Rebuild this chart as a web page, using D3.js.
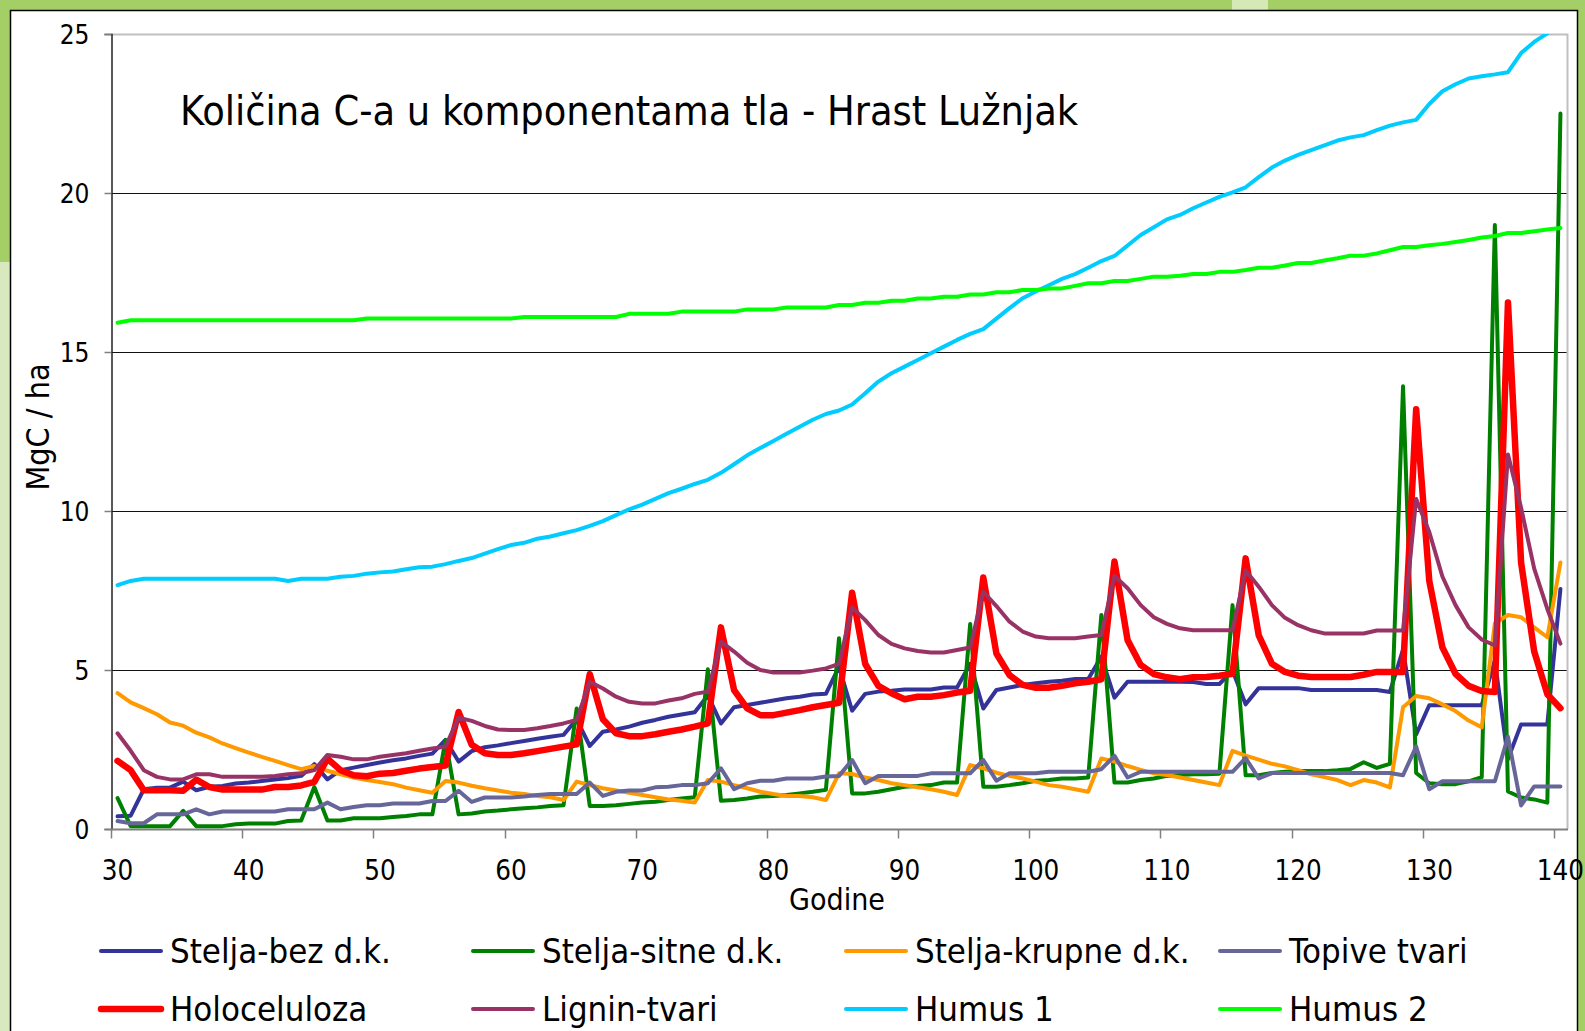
<!DOCTYPE html>
<html>
<head>
<meta charset="utf-8">
<script src="https://cdn.jsdelivr.net/npm/d3@7"></script>
<style>
  html, body { margin: 0; padding: 0; background: #a3cf66; overflow: hidden; }
  svg { display: block; }
  text { font-family: "DejaVu Sans Condensed", "DejaVu Sans", sans-serif; fill: #000; }
</style>
</head>
<body>
<div id="chart"></div>
<script>
// Godine (kategorije na osi x)
var years = d3.range(30, 141);
var yTicks = [0, 5, 10, 15, 20, 25];
var xTickLabels = [30, 40, 50, 60, 70, 80, 90, 100, 110, 120, 130, 140];

// Vrijednosti serija (MgC / ha), 30. - 140. godina
var steljaBez = [
  0.40, 0.42, 1.25, 1.30, 1.30, 1.49, 1.22, 1.33, 1.35, 1.43,
  1.46, 1.51, 1.56, 1.60, 1.67, 2.04, 1.56, 1.85, 1.93, 2.01,
  2.09, 2.16, 2.22, 2.30, 2.37, 2.80, 2.12, 2.45, 2.57, 2.63,
  2.70, 2.77, 2.84, 2.90, 2.96, 3.45, 2.61, 3.06, 3.13, 3.22,
  3.34, 3.43, 3.53, 3.60, 3.67, 4.20, 3.32, 3.83, 3.90, 3.97,
  4.04, 4.11, 4.16, 4.23, 4.25, 5.10, 3.72, 4.25, 4.32, 4.35,
  4.39, 4.39, 4.39, 4.45, 4.45, 5.19, 3.79, 4.37, 4.45, 4.53,
  4.58, 4.63, 4.66, 4.72, 4.72, 5.42, 4.13, 4.63, 4.63, 4.63,
  4.63, 4.63, 4.62, 4.56, 4.56, 4.98, 3.92, 4.43, 4.43, 4.43,
  4.43, 4.37, 4.37, 4.37, 4.37, 4.37, 4.37, 4.31, 5.64, 2.97,
  3.89, 3.89, 3.89, 3.89, 3.89, 5.30, 2.20, 3.29, 3.29, 3.29,
  7.55
];
var steljaSitne = [
  0.97, 0.09, 0.09, 0.09, 0.09, 0.57, 0.09, 0.09, 0.09, 0.15,
  0.17, 0.17, 0.17, 0.25, 0.27, 1.32, 0.27, 0.27, 0.34, 0.34,
  0.34, 0.38, 0.41, 0.46, 0.46, 2.80, 0.46, 0.49, 0.55, 0.58,
  0.62, 0.65, 0.68, 0.72, 0.75, 3.79, 0.72, 0.72, 0.75, 0.79,
  0.83, 0.86, 0.91, 0.96, 1.00, 5.02, 0.89, 0.91, 0.96, 1.02,
  1.04, 1.07, 1.12, 1.17, 1.23, 6.00, 1.12, 1.12, 1.17, 1.25,
  1.33, 1.35, 1.38, 1.46, 1.46, 6.45, 1.33, 1.33, 1.38, 1.44,
  1.52, 1.54, 1.59, 1.59, 1.62, 6.73, 1.46, 1.46, 1.54, 1.59,
  1.67, 1.70, 1.72, 1.72, 1.74, 7.04, 1.69, 1.69, 1.76, 1.80,
  1.82, 1.82, 1.82, 1.85, 1.89, 2.10, 1.92, 2.05, 13.92, 1.76,
  1.44, 1.41, 1.41, 1.50, 1.63, 18.99, 1.18, 0.99, 0.93, 0.83,
  22.50
];
var steljaKrupne = [
  4.27, 3.98, 3.80, 3.61, 3.35, 3.25, 3.03, 2.88, 2.69, 2.54,
  2.40, 2.27, 2.14, 2.01, 1.88, 1.98, 1.83, 1.72, 1.62, 1.54,
  1.48, 1.41, 1.30, 1.22, 1.14, 1.51, 1.46, 1.36, 1.28, 1.21,
  1.14, 1.10, 1.04, 1.00, 0.91, 1.49, 1.38, 1.28, 1.21, 1.14,
  1.07, 1.00, 0.93, 0.89, 0.83, 1.54, 1.49, 1.38, 1.28, 1.17,
  1.10, 1.04, 1.04, 1.00, 0.91, 1.75, 1.73, 1.62, 1.54, 1.44,
  1.38, 1.31, 1.25, 1.17, 1.07, 2.01, 1.91, 1.77, 1.67, 1.59,
  1.49, 1.38, 1.33, 1.25, 1.17, 2.22, 2.12, 1.98, 1.86, 1.75,
  1.70, 1.62, 1.54, 1.46, 1.38, 2.46, 2.31, 2.18, 2.05, 1.97,
  1.85, 1.72, 1.63, 1.54, 1.38, 1.54, 1.46, 1.31, 3.83, 4.18,
  4.11, 3.92, 3.71, 3.41, 3.20, 6.47, 6.73, 6.66, 6.34, 6.03,
  8.38
];
var topive = [
  0.25, 0.18, 0.18, 0.46, 0.46, 0.46, 0.62, 0.46, 0.55, 0.55,
  0.55, 0.55, 0.55, 0.62, 0.62, 0.62, 0.83, 0.62, 0.69, 0.75,
  0.75, 0.80, 0.80, 0.80, 0.88, 0.88, 1.20, 0.85, 0.99, 0.99,
  0.99, 1.02, 1.07, 1.10, 1.10, 1.10, 1.46, 1.04, 1.17, 1.21,
  1.21, 1.31, 1.33, 1.38, 1.38, 1.44, 1.91, 1.25, 1.44, 1.52,
  1.52, 1.59, 1.59, 1.59, 1.65, 1.67, 2.17, 1.44, 1.67, 1.67,
  1.67, 1.67, 1.75, 1.75, 1.75, 1.75, 2.17, 1.52, 1.75, 1.75,
  1.75, 1.80, 1.80, 1.80, 1.80, 1.88, 2.30, 1.62, 1.80, 1.80,
  1.80, 1.80, 1.80, 1.80, 1.80, 1.80, 2.23, 1.59, 1.76, 1.76,
  1.76, 1.76, 1.76, 1.76, 1.76, 1.76, 1.76, 1.76, 1.69, 2.59,
  1.25, 1.50, 1.50, 1.50, 1.50, 1.50, 2.90, 0.74, 1.34, 1.34,
  1.34
];
var holoceluloza = [
  2.14, 1.85, 1.22, 1.22, 1.22, 1.20, 1.55, 1.32, 1.24, 1.24,
  1.24, 1.24, 1.32, 1.32, 1.37, 1.48, 2.21, 1.85, 1.69, 1.66,
  1.74, 1.76, 1.83, 1.90, 1.95, 2.00, 3.68, 2.65, 2.38, 2.33,
  2.33, 2.38, 2.45, 2.52, 2.59, 2.66, 4.87, 3.45, 3.01, 2.92,
  2.92, 2.98, 3.06, 3.13, 3.22, 3.32, 6.34, 4.37, 3.79, 3.58,
  3.58, 3.66, 3.74, 3.83, 3.90, 3.97, 7.43, 5.19, 4.50, 4.27,
  4.08, 4.16, 4.16, 4.21, 4.29, 4.35, 7.91, 5.52, 4.84, 4.53,
  4.44, 4.44, 4.50, 4.58, 4.63, 4.71, 8.41, 5.94, 5.16, 4.87,
  4.77, 4.71, 4.77, 4.78, 4.82, 4.88, 8.51, 6.09, 5.20, 4.94,
  4.82, 4.78, 4.78, 4.78, 4.78, 4.85, 4.94, 4.94, 4.94, 13.20,
  7.80, 5.71, 4.88, 4.50, 4.34, 4.31, 16.56, 8.38, 5.58, 4.24,
  3.80
];
var lignin = [
  3.01, 2.46, 1.85, 1.64, 1.56, 1.56, 1.72, 1.72, 1.64, 1.64,
  1.64, 1.64, 1.67, 1.72, 1.75, 1.85, 2.33, 2.27, 2.19, 2.19,
  2.27, 2.33, 2.38, 2.46, 2.53, 2.59, 3.50, 3.40, 3.24, 3.13,
  3.11, 3.11, 3.17, 3.24, 3.32, 3.43, 4.63, 4.42, 4.16, 4.00,
  3.95, 3.95, 4.04, 4.11, 4.25, 4.32, 5.89, 5.58, 5.23, 5.00,
  4.92, 4.92, 4.92, 4.98, 5.05, 5.19, 6.97, 6.57, 6.10, 5.82,
  5.68, 5.60, 5.55, 5.55, 5.63, 5.71, 7.46, 7.01, 6.52, 6.21,
  6.05, 6.00, 6.00, 6.00, 6.05, 6.10, 7.96, 7.57, 7.04, 6.66,
  6.45, 6.31, 6.25, 6.25, 6.25, 6.25, 8.13, 7.62, 7.04, 6.64,
  6.41, 6.25, 6.15, 6.15, 6.15, 6.15, 6.24, 6.24, 6.24, 10.38,
  9.34, 7.94, 7.04, 6.34, 5.96, 5.77, 11.78, 10.10, 8.19, 6.92,
  5.83
];
var humus1 = [
  7.67, 7.80, 7.87, 7.87, 7.87, 7.87, 7.87, 7.87, 7.87, 7.87,
  7.87, 7.87, 7.87, 7.80, 7.87, 7.87, 7.87, 7.93, 7.96, 8.03,
  8.07, 8.10, 8.17, 8.23, 8.25, 8.33, 8.43, 8.52, 8.66, 8.80,
  8.93, 9.00, 9.13, 9.20, 9.30, 9.40, 9.53, 9.68, 9.87, 10.05,
  10.20, 10.38, 10.56, 10.70, 10.85, 10.98, 11.20, 11.47, 11.75, 11.98,
  12.20, 12.43, 12.65, 12.87, 13.05, 13.16, 13.35, 13.70, 14.07, 14.33,
  14.54, 14.75, 14.96, 15.17, 15.38, 15.57, 15.72, 16.05, 16.38, 16.69,
  16.90, 17.10, 17.30, 17.45, 17.65, 17.86, 18.02, 18.35, 18.68, 18.92,
  19.17, 19.31, 19.52, 19.70, 19.88, 20.02, 20.18, 20.50, 20.80, 21.02,
  21.20, 21.35, 21.50, 21.65, 21.75, 21.82, 21.98, 22.12, 22.22, 22.30,
  22.80, 23.20, 23.42, 23.60, 23.67, 23.73, 23.80, 24.40, 24.75, 25.02,
  25.30
];
var humus2 = [
  15.92, 16.00, 16.00, 16.00, 16.00, 16.00, 16.00, 16.00, 16.00, 16.00,
  16.00, 16.00, 16.00, 16.00, 16.00, 16.00, 16.00, 16.00, 16.00, 16.05,
  16.05, 16.05, 16.05, 16.05, 16.05, 16.05, 16.05, 16.05, 16.05, 16.05,
  16.05, 16.10, 16.10, 16.10, 16.10, 16.10, 16.10, 16.10, 16.10, 16.20,
  16.20, 16.20, 16.20, 16.27, 16.27, 16.27, 16.27, 16.27, 16.34, 16.34,
  16.34, 16.40, 16.40, 16.40, 16.40, 16.48, 16.48, 16.55, 16.55, 16.61,
  16.61, 16.68, 16.68, 16.74, 16.74, 16.81, 16.81, 16.88, 16.88, 16.95,
  16.95, 17.00, 17.00, 17.08, 17.16, 17.16, 17.23, 17.23, 17.30, 17.37,
  17.37, 17.40, 17.45, 17.45, 17.52, 17.52, 17.58, 17.65, 17.65, 17.72,
  17.80, 17.80, 17.88, 17.95, 18.03, 18.03, 18.10, 18.20, 18.30, 18.30,
  18.36, 18.40, 18.46, 18.52, 18.60, 18.65, 18.74, 18.74, 18.80, 18.85,
  18.90
];

var seriesNames = ["Stelja-bez d.k.", "Stelja-sitne d.k.", "Stelja-krupne d.k.", "Topive tvari",
                   "Holoceluloza", "Lignin-tvari", "Humus 1", "Humus 2"];
var seriesValues = [steljaBez, steljaSitne, steljaKrupne, topive, holoceluloza, lignin, humus1, humus2];
var seriesColors = ["#333399", "#008000", "#ff9900", "#666699", "#ff0000", "#993366", "#00ccff", "#00ff00"];
var seriesWidths = [4, 4, 4, 4, 6.5, 4, 4, 4];

var width = 1585, height = 1031;
var plot = { left: 111, right: 1567, top: 34, bottom: 829 };

var svg = d3.select("#chart").append("svg")
  .attr("width", width)
  .attr("height", height);

// okvir: zelena pozadina i bijela ploha
svg.append("rect").attr("x", 0).attr("y", 0).attr("width", width).attr("height", height).attr("fill", "#a3cf66");
svg.append("rect").attr("x", 0).attr("y", 262).attr("width", 10).attr("height", height - 262).attr("fill", "#d8e9c0");
svg.append("rect").attr("x", 1232).attr("y", 0).attr("width", 36).attr("height", 10).attr("fill", "#d4e8b8");
svg.append("rect")
  .attr("x", 10.5).attr("y", 10.5)
  .attr("width", 1567).attr("height", height)
  .attr("fill", "#fff")
  .attr("stroke", "#000")
  .attr("stroke-width", 1.5);

var x = d3.scaleBand()
  .domain(years)
  .range([plot.left, plot.right])
  .padding(0);

var y = d3.scaleLinear()
  .domain([0, 25])
  .range([plot.bottom, plot.top]);

function cx(year) { return x(year) + x.bandwidth() / 2; }

// mreža
svg.append("g")
  .selectAll("line")
  .data(yTicks.filter(function(d) { return d > 0 && d < 25; }))
  .enter()
  .append("line")
  .attr("x1", plot.left).attr("x2", plot.right)
  .attr("y1", function(d) { return Math.round(y(d)) + 0.5; })
  .attr("y2", function(d) { return Math.round(y(d)) + 0.5; })
  .attr("stroke", "#111")
  .attr("stroke-width", 1);

// obrub plohe grafa (gore i desno)
svg.append("path")
  .attr("d", "M" + plot.left + "," + (plot.top + 0.5) + "H" + (plot.right + 0.5) + "V" + plot.bottom)
  .attr("fill", "none")
  .attr("stroke", "#c0c0c0")
  .attr("stroke-width", 2);

// os y
var yAxis = svg.append("g")
  .attr("transform", "translate(" + (plot.left + 0.5) + ",0)")
  .call(d3.axisLeft(y).tickValues(yTicks).tickSize(7).tickPadding(15).tickFormat(d3.format("d")));
yAxis.select(".domain").attr("stroke", "#222").attr("stroke-width", 1.5);
yAxis.selectAll(".tick line").attr("stroke", "#808080").attr("stroke-width", 1.5);
yAxis.selectAll(".tick text")
  .attr("font-size", 26)
  .attr("font-family", "\"DejaVu Sans Condensed\", \"DejaVu Sans\", sans-serif")
  .attr("dy", "0.36em");

// os x: crtice između kategorija, oznake u sredini kategorija
var xAxisG = svg.append("g").attr("transform", "translate(0," + (plot.bottom + 0.5) + ")");
xAxisG.append("line")
  .attr("x1", plot.left).attr("x2", plot.right + 1)
  .attr("stroke", "#808080").attr("stroke-width", 2);
xAxisG.selectAll(".xtick")
  .data(xTickLabels)
  .enter()
  .append("line")
  .attr("class", "xtick")
  .attr("x1", function(d) { return Math.round(x(d)) + 0.5; })
  .attr("x2", function(d) { return Math.round(x(d)) + 0.5; })
  .attr("y1", 0).attr("y2", 9)
  .attr("stroke", "#808080").attr("stroke-width", 1.5);
xAxisG.selectAll(".xlabel")
  .data(xTickLabels)
  .enter()
  .append("text")
  .attr("class", "xlabel")
  .attr("x", function(d) { return cx(d); })
  .attr("y", 50)
  .attr("text-anchor", "middle")
  .attr("font-size", 27.5)
  .text(function(d) { return d; });

// nazivi osi
svg.append("text")
  .attr("x", 837).attr("y", 910)
  .attr("text-anchor", "middle")
  .attr("font-size", 30)
  .text("Godine");
svg.append("text")
  .attr("transform", "translate(49,427) rotate(-90)")
  .attr("text-anchor", "middle")
  .attr("font-size", 32)
  .text("MgC / ha");

// naslov
svg.append("text")
  .attr("x", 180).attr("y", 125)
  .attr("font-size", 41)
  .text("Količina C-a u komponentama tla - Hrast Lužnjak");

// linije serija
svg.append("clipPath").attr("id", "plotClip")
  .append("rect")
  .attr("x", plot.left).attr("y", plot.top)
  .attr("width", plot.right - plot.left).attr("height", plot.bottom - plot.top);

var line = d3.line()
  .x(function(d, i) { return cx(years[i]); })
  .y(function(d) { return y(d); });

svg.append("g")
  .attr("clip-path", "url(#plotClip)")
  .selectAll("path")
  .data(seriesValues)
  .enter()
  .append("path")
  .attr("d", function(d) { return line(d); })
  .attr("fill", "none")
  .attr("stroke", function(d, i) { return seriesColors[i]; })
  .attr("stroke-width", function(d, i) { return seriesWidths[i]; })
  .attr("stroke-linejoin", "round")
  .attr("stroke-linecap", "round");

// legenda
var legendCols = [101, 473, 846, 1220];
var legendRows = [951, 1009];
var legend = svg.append("g")
  .selectAll("g")
  .data(seriesNames)
  .enter()
  .append("g")
  .attr("transform", function(d, i) {
    return "translate(" + legendCols[i % 4] + "," + legendRows[Math.floor(i / 4)] + ")";
  });
legend.append("line")
  .attr("x1", 0).attr("x2", 60)
  .attr("stroke", function(d, i) { return seriesColors[i]; })
  .attr("stroke-width", function(d, i) { return seriesWidths[i]; })
  .attr("stroke-linecap", "round");
legend.append("text")
  .attr("x", 69).attr("y", 12)
  .attr("font-size", 34.5)
  .text(function(d) { return d; });
</script>
</body>
</html>
